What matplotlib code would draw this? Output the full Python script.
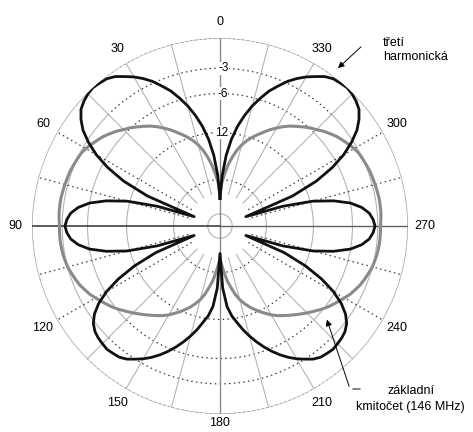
import numpy as np
import matplotlib
matplotlib.use('Agg')
import matplotlib.pyplot as plt

plt.rcParams['font.family'] = ['Liberation Sans', 'DejaVu Sans']

#data (dB vs angle 0..180 deg, pattern is mirrored for 180..360)
angles = [0, 2.5, 5, 7.5, 10, 12.5, 15, 17.5, 20, 22.5, 25, 27.5, 30, 32.5, 35, 37.5,
          40, 42.5, 45, 47.5, 50, 52.5, 55, 57.5, 60, 62.5, 65, 67.5, 70, 72.5, 75,
          77.5, 80, 82.5, 85, 87.5, 90, 92.5, 95, 97.5, 100, 102.5, 105, 107.5, 110,
          112.5, 115, 117.5, 120, 122.5, 125, 127.5, 130, 132.5, 135, 137.5, 140,
          142.5, 145, 147.5, 150, 152.5, 155, 157.5, 160, 162.5, 165, 167.5, 170,
          172.5, 175, 177.5, 180]

# third harmonic (black)
harmonic_db = [-33, -22.5, -16.7, -13.1, -10.6, -8.7, -7.1, -5.8, -4.6, -3.7, -2.8,
               -2.1, -1.5, -1.0, -0.5, -0.2, -0.1, 0.0, -0.1, -0.3, -0.6, -1.2, -2.0,
               -3.2, -4.7, -6.8, -9.8, -15, -33, -18, -11.5, -8.2, -6.0, -4.7, -3.9,
               -3.5, -3.3,
               -3.5, -3.9, -4.7, -6.0, -8.2, -11.5, -18, -33, -17, -11.8, -8.5, -6.2,
               -4.6, -3.5, -2.8, -2.4, -2.2, -2.1, -2.0, -2.1, -2.2, -2.5, -3.0, -3.5,
               -4.1, -4.8, -5.6, -6.5, -7.5, -8.6, -9.8, -11.2, -12.5, -14.5, -19, -33]

# fundamental 146 MHz (gray)
fundamental_db = [-30, -25, -22, -19.2, -17, -15.2, -13.8, -12.7, -11.8, -11.0, -10.2,
                  -9.4, -8.7, -8.0, -7.4, -6.9, -6.4, -5.9, -5.5, -5.0, -4.6, -4.2,
                  -3.9, -3.6, -3.3, -3.1, -3.0, -2.9, -2.8, -2.75, -2.7, -2.65, -2.6,
                  -2.6, -2.6, -2.65, -2.7,
                  -2.7, -2.7, -2.75, -2.8, -2.9, -3.0, -3.2, -3.4, -3.6, -3.9, -4.2,
                  -4.6, -5.0, -5.4, -5.8, -6.3, -6.8, -7.3, -7.8, -8.3, -8.8, -9.3,
                  -9.8, -10.4, -11.1, -11.8, -12.6, -13.4, -14.4, -15.5, -17, -19, -21,
                  -24, -27, -30]

ring_db = [0, -3, -6, -12, -24]
ring_labels = {-3: '-3', -6: '-6', -12: '12'}
angle_labels = [0, 30, 60, 90, 120, 150, 180, 210, 240, 270, 300, 330]
#==================================================================================


def arrl(db):
    # ARRL log scale: every 2 dB shrinks the radius to 0.89
    return 0.89 ** (-np.asarray(db, dtype=float) / 2.0)


# left/right mirror of the 0..180 readings
theta_full = angles + [360 - a for a in angles[-2::-1]]
harm_full = harmonic_db + harmonic_db[-2::-1]
fund_full = fundamental_db + fundamental_db[-2::-1]

fig = plt.figure(figsize=(4.73, 4.32), dpi=100)
ax = fig.add_axes([0.0676, 0.0417, 0.795, 0.870], projection='polar')
ax.set_theta_zero_location('N')
ax.set_theta_direction(1)
ax.set_ylim(0, 1)
ax.grid(False)
ax.set_xticks([])
ax.set_yticks([])
ax.spines['polar'].set_visible(False)

light = '#b4b4b4'
dark = '#3a3a3a'
dots = (0, (1.2, 2.6))

#grid rings: dotted in top/bottom sectors, solid light on the sides
arc = np.radians(np.linspace(-45, 45, 120))
for db in ring_db:
    r = arrl(db)
    for c in (0, 180):
        ax.plot(arc + np.radians(c), np.full_like(arc, r), color=dark, lw=0.9, ls=dots)
    for c in (90, 270):
        ax.plot(arc + np.radians(c), np.full_like(arc, r), color=light, lw=0.8)
full = np.radians(np.linspace(0, 360, 400))
ax.plot(full, np.full_like(full, 1.0), color=light, lw=0.9)
ax.plot(full, np.full_like(full, 0.065), color=light, lw=0.8)

#radial lines every 15 deg
r0 = arrl(-30)
for a in range(0, 360, 15):
    if a % 90 == 0:
        continue
    t = np.radians(a)
    if a <= 45 or a >= 315 or 135 <= a <= 225:
        ax.plot([t, t], [r0, 1.0], color=light, lw=0.8)
    else:
        ax.plot([t, t], [r0, 1.0], color=dark, lw=0.9, ls=dots)

ax.plot([0, 0], [0, 1], color='#8c8c8c', lw=1.0)
ax.plot([np.pi, np.pi], [0, 1], color='#8c8c8c', lw=1.0)
ax.plot([np.pi / 2, np.pi / 2], [0, 1], color='#303030', lw=1.1)
ax.plot([3 * np.pi / 2, 3 * np.pi / 2], [0, 1], color='#606060', lw=1.0)

#patterns
ax.plot(np.radians(theta_full), arrl(fund_full), color='#8a8a8a', lw=2.2)
ax.plot(np.radians(theta_full), arrl(harm_full), color='#111111', lw=2.0)

#labels
for a in angle_labels:
    rl = 1.05 if a == 180 else 1.088
    ax.text(np.radians(a), rl, str(a), ha='center', va='center', fontsize=9,
            clip_on=False)
for db, lab in ring_labels.items():
    ax.text(np.radians(-1.2), arrl(db), lab, ha='center', va='center', fontsize=8.5,
            bbox=dict(facecolor='white', edgecolor='none', pad=0.3))

fig.text(383 / 473, 1 - 43 / 432, 'třetí', ha='left', va='center', fontsize=9)
fig.text(383 / 473, 1 - 57 / 432, 'harmonická', ha='left', va='center', fontsize=9)
fig.text(411 / 473, 1 - 391 / 432, 'základní', ha='center', va='center', fontsize=9)
fig.text(410 / 473, 1 - 407 / 432, 'kmitočet (146 MHz)', ha='center', va='center',
         fontsize=9)

ax.annotate('', xy=(336, 432 - 70), xytext=(363, 432 - 45), xycoords='figure pixels',
            arrowprops=dict(arrowstyle='-|>', color='k', lw=0.7, mutation_scale=9))
ax.annotate('', xy=(326, 432 - 317), xytext=(350, 432 - 389), xycoords='figure pixels',
            arrowprops=dict(arrowstyle='-|>', color='k', lw=0.7, mutation_scale=9))
ax.annotate('', xy=(363, 432 - 389), xytext=(350, 432 - 389), xycoords='figure pixels',
            arrowprops=dict(arrowstyle='-', color='k', lw=0.7))

fig.savefig('out.png', dpi=100)
